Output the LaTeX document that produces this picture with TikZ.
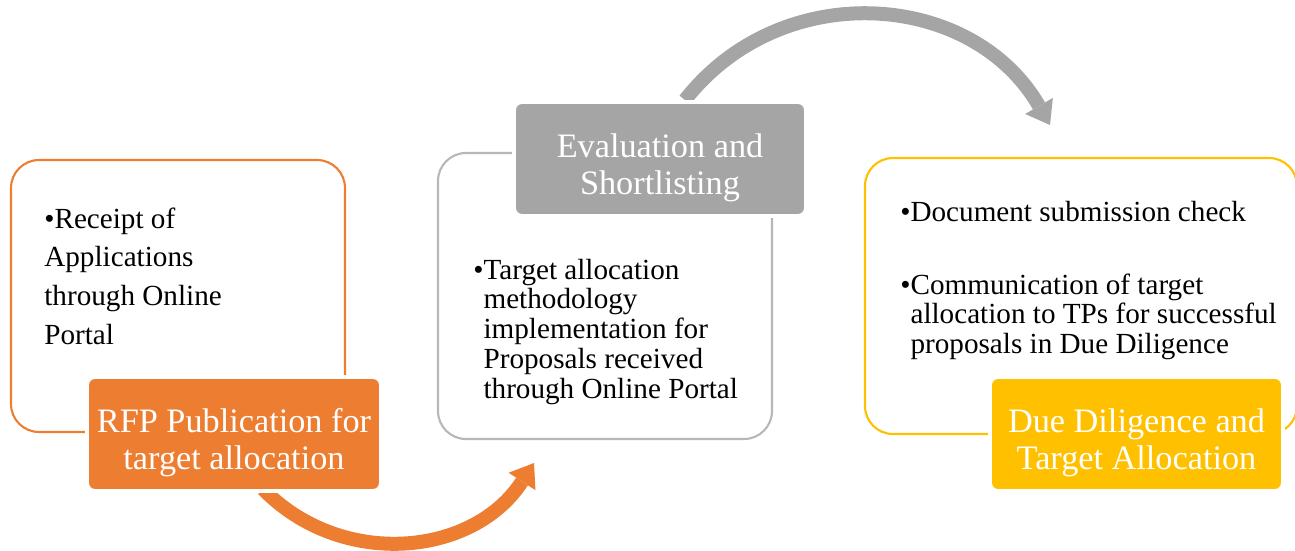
\documentclass[tikz,border=0pt]{standalone}
\usepackage{fontspec}
\setmainfont{Liberation Serif}
\usetikzlibrary{arrows.meta, positioning}
\definecolor{rfporange}{HTML}{ED7D31}
\definecolor{evalgray}{HTML}{A5A5A5}
\definecolor{dueyellow}{HTML}{FFC000}
% label text sits a little below the middle of its box
\newcommand{\lbltext}[1]{\raisebox{-3.7mm}[0pt][0pt]{\begin{tabular}{@{}c@{}}#1\end{tabular}}}

\begin{document}
\begin{tikzpicture}[x=0.2mm, y=-0.2mm,
    box/.style={draw=#1, line width=1.2pt, rounded corners=5.6mm},
    lbl/.style={fill=#1, draw=white, line width=2.2pt, rounded corners=1.6mm,
        minimum width=5.88cm, minimum height=2.28cm, inner sep=2pt,
        text=white, font=\fontsize{19.5}{21.6}\selectfont},
    txt/.style={anchor=base west, align=left, inner sep=0pt,
        font=\fontsize{16.6}{17}\selectfont},
    flow/.style={draw=#1, line width=2.8mm,
        -{Triangle[width=6.4mm, length=4.4mm, line width=0pt]}}
]
    \useasboundingbox (0,0) rectangle (1295,550);

    % the two curved arrows go first, the boxes lie over their ends
    \coordinate (rfpout) at (263,489);
    \coordinate (evalin) at (534,463);
    \coordinate (evalout) at (685,100);
    \coordinate (duein) at (1050,125);
    \draw[flow=rfporange] (rfpout) .. controls (341,569) and (473,557) .. (evalin);
    \draw[flow=evalgray] (evalout) .. controls (781,-23) and (972,-10) .. (duein);

    % stage 1
    \node[box=rfporange, minimum width=6.68cm, minimum height=5.44cm] (recv) at (178,296) {};
    \node[lbl=rfporange] (rfp) at (234,434) {\lbltext{RFP Publication for\\target allocation}};
    \node[txt, font=\fontsize{16.6}{22}\selectfont] (recvtxt) at (44,344)
        {\textbullet Receipt of\\Applications\\through Online\\Portal};

    % stage 2
    \node[box=evalgray!80, minimum width=6.68cm, minimum height=5.72cm] (eval) at (605,296) {};
    \node[lbl=evalgray, minimum width=5.84cm] (short) at (660,159) {\lbltext{Evaluation and\\Shortlisting}};
    \node[txt] (evaltxt) at (473,279)
        {\textbullet\begin{tabular}[t]{@{}l@{}}Target allocation\\methodology\\implementation for\\Proposals received\\through Online Portal\end{tabular}};

    % stage 3
    \node[box=dueyellow, minimum width=8.64cm, minimum height=5.52cm] (due) at (1081,296) {};
    \node[lbl=dueyellow, minimum width=5.86cm] (alloc) at (1136.5,434) {\lbltext{Due Diligence and\\Target Allocation}};
    \node[txt] (duetxt) at (900,294)
        {\textbullet Document submission check\\[24pt]
         \textbullet\begin{tabular}[t]{@{}l@{}}Communication of target\\allocation to TPs for successful\\proposals in Due Diligence\end{tabular}};
\end{tikzpicture}
\end{document}
